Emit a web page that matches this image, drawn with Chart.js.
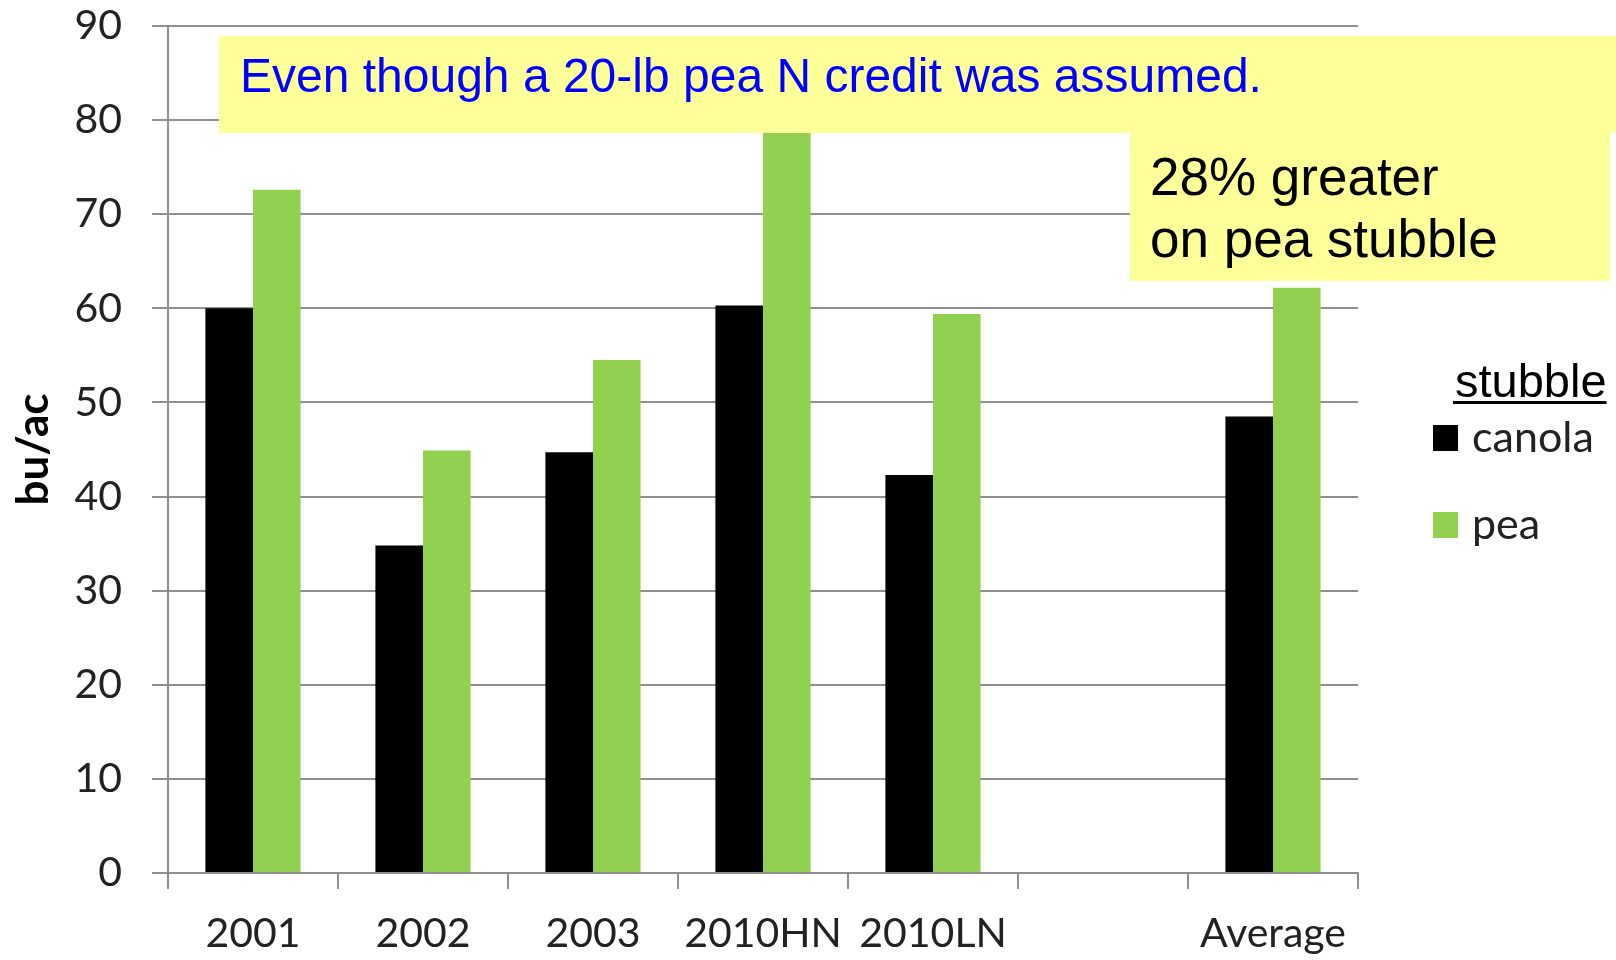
<!DOCTYPE html>
<html>
<head>
<meta charset="utf-8">
<script src="https://cdn.jsdelivr.net/npm/chart.js@4.4.1/dist/chart.umd.min.js"></script>
<style>
  html, body { margin: 0; padding: 0; background: #fff; }
  #wrap { width: 1616px; height: 960px; }
</style>
</head>
<body>
<div id="wrap"><canvas id="yieldChart" width="1616" height="960"></canvas></div>
<script>
// categories along the x axis (one empty slot before the average)
const categories = ['2001', '2002', '2003', '2010HN', '2010LN', '', 'Average'];
// yield, bu/ac
const canolaStubble = [60.0, 34.8, 44.7, 60.3, 42.3, null, 48.5];
const peaStubble = [72.6, 44.9, 54.5, 79.6, 59.4, null, 62.2];
const yMin = 0, yMax = 90, yStep = 10;

const gridGrey = '#8f8f8f';
const tickFont = { family: 'Lato, sans-serif', size: 41 };

// draws the "stubble" legend on the right side
const stubbleLegend = {
    id: 'stubbleLegend',
    afterDraw(chart) {
        const ctx = chart.ctx;
        ctx.save();
        ctx.fillStyle = '#000';
        ctx.font = '47px "Liberation Sans", Arial, sans-serif';
        ctx.textBaseline = 'alphabetic';
        ctx.fillText('stubble', 1455, 397);
        const w = ctx.measureText('stubble').width;
        ctx.fillRect(1453, 401, w + 2, 3);

        ctx.font = '43px Lato, sans-serif';
        chart.data.datasets.forEach(function(ds, i) {
            const top = 425 + i * 87;
            ctx.fillStyle = ds.backgroundColor;
            ctx.fillRect(1433, top, 25, 26);
            ctx.fillStyle = '#222';
            ctx.fillText(ds.label, 1472, top + 27);
        });
        ctx.restore();
    }
};

// yellow call-out boxes drawn over the bars
const calloutBoxes = {
    id: 'calloutBoxes',
    afterDatasetsDraw(chart) {
        const ctx = chart.ctx;
        ctx.save();
        ctx.fillStyle = '#ffff99';
        ctx.fillRect(219, 36, 1397, 97);
        ctx.fillRect(1130, 133, 480, 148);

        ctx.textBaseline = 'alphabetic';
        ctx.fillStyle = '#0000ff';
        ctx.font = '48px "Liberation Sans", Arial, sans-serif';
        ctx.fillText('Even though a 20-lb pea N credit was assumed.', 240, 92);

        ctx.fillStyle = '#000';
        ctx.font = '53px "Liberation Sans", Arial, sans-serif';
        ctx.fillText('28% greater', 1150, 195);
        ctx.fillText('on pea stubble', 1150, 257);
        ctx.restore();
    }
};

const ctx = document.getElementById('yieldChart').getContext('2d');
const yieldChart = new Chart(ctx, {
    type: 'bar',
    data: {
        labels: categories,
        datasets: [
            { label: 'canola', data: canolaStubble, backgroundColor: '#000000' },
            { label: 'pea', data: peaStubble, backgroundColor: '#92d050' }
        ]
    },
    options: {
        responsive: false,
        animation: false,
        layout: { padding: { left: 0, top: 26, right: 258, bottom: 0 } },
        datasets: {
            bar: { categoryPercentage: 0.56, barPercentage: 1.0 }
        },
        plugins: {
            legend: { display: false },
            tooltip: { enabled: false }
        },
        scales: {
            x: {
                grid: {
                    display: true,
                    drawOnChartArea: false,
                    drawTicks: true,
                    tickLength: 16,
                    color: gridGrey,
                    lineWidth: 2
                },
                border: { display: true, color: gridGrey, width: 2 },
                ticks: {
                    color: '#222',
                    font: tickFont,
                    padding: 20,
                    maxRotation: 0,
                    autoSkip: false
                },
                afterFit(scale) { scale.height = 87; }
            },
            y: {
                min: yMin,
                max: yMax,
                grid: {
                    color: gridGrey,
                    lineWidth: 2,
                    drawTicks: true,
                    tickLength: 16
                },
                border: { display: true, color: gridGrey, width: 2 },
                ticks: {
                    stepSize: yStep,
                    color: '#222',
                    font: tickFont,
                    padding: 30
                },
                title: {
                    display: true,
                    text: 'bu/ac',
                    color: '#000',
                    font: { family: 'Lato, sans-serif', size: 44, weight: 'bold' },
                    padding: { top: 7, bottom: 0 }
                },
                afterFit(scale) {
                    scale.width = 168;
                    // let the top tick label hang above the plot like the original
                    scale.paddingTop = 0;
                    scale.paddingBottom = 0;
                }
            }
        }
    },
    plugins: [calloutBoxes, stubbleLegend]
});
</script>
</body>
</html>
